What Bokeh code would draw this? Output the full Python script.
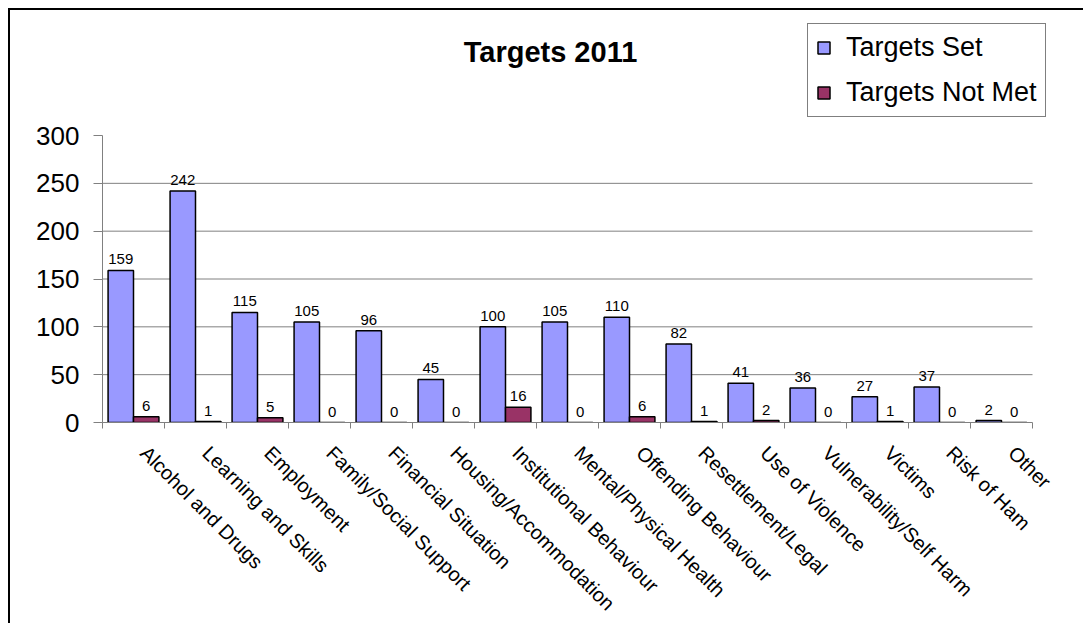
import numpy as np
from math import pi
from bokeh.plotting import figure
from bokeh.models import (ColumnDataSource, Range1d, FixedTicker, LabelSet, Label,
                          Legend, LegendItem)
from bokeh.transform import dodge
from bokeh.core.properties import value
from bokeh.embed import file_html
from bokeh.resources import INLINE

categories = ["Alcohol and Drugs", "Learning and Skills", "Employment",
              "Family/Social Support", "Financial Situation", "Housing/Accommodation",
              "Institutional Behaviour", "Mental/Physical Health", "Offending Behaviour",
              "Resettlement/Legal", "Use of Violence", "Vulnerability/Self Harm",
              "Victims", "Risk of Ham", "Other"]
targets_set = [159, 242, 115, 105, 96, 45, 100, 105, 110, 82, 41, 36, 27, 37, 2]
targets_not_met = [6, 1, 5, 0, 0, 0, 16, 0, 6, 1, 2, 0, 1, 0, 0]
y_ticks = [0, 50, 100, 150, 200, 250, 300]
series_names = ["Targets Set", "Targets Not Met"]
title_text = "Targets 2011"

FONT = "Liberation Sans"
n = len(categories)

# layout (pixels)
W, H = 1075, 615
FL, FB = 92, 412          # frame left / frame bottom position of the category axis
CAT_PX, VAL_PX = 930, 287  # pixel span of the categories and of 0..300
FT, FR = 2, 1062           # frame top / right (frame extended so annotations are not clipped)

x_end = n * (FR - FL) / CAT_PX
y_end = y_ticks[-1] * (FB - FT) / VAL_PX

xi = np.arange(n) + 0.5
source = ColumnDataSource(dict(
    x=xi, cat=categories, set=targets_set, notmet=targets_not_met,
    set_lbl=[str(v) for v in targets_set],
    notmet_lbl=[str(v) for v in targets_not_met],
))

p = figure(width=W, height=H,
           x_range=Range1d(0, x_end), y_range=Range1d(y_ticks[0], y_end),
           output_backend="svg", toolbar_location=None,
           min_border_left=FL, min_border_top=FT, min_border_right=W - FR,
           min_border_bottom=H - FB)
p.styles = {"margin-left": "8px", "margin-top": "8px",
            "border-left": "2px solid #000000", "border-top": "2px solid #000000"}
p.outline_line_color = None
p.background_fill_color = "white"
p.xgrid.visible = False
p.ygrid.visible = False

# horizontal gridlines limited to the category span
gy = y_ticks[1:-1]
p.segment(x0=[0] * len(gy), x1=[n] * len(gy), y0=gy, y1=gy,
          line_color="#808080", line_width=1)

off = 0.205
r1 = p.vbar(x=dodge("x", -off, range=p.x_range), top="set", width=0.41, source=source,
            fill_color="#9999FF", line_color="black", line_width=1.5)
r2 = p.vbar(x=dodge("x", off, range=p.x_range), top="notmet", width=0.41, source=source,
            fill_color="#993366", line_color="black", line_width=1.5)

for col, lbl, dx in (("set", "set_lbl", -off), ("notmet", "notmet_lbl", off)):
    p.add_layout(LabelSet(x=dodge("x", dx, range=p.x_range), y=col, text=lbl, source=source,
                          text_align="center", text_baseline="bottom", y_offset=6,
                          text_font=value(FONT), text_font_size="15px", text_color="black"))

# axes
LBL_SHIFT = 0.17  # slanted labels start a little right of the category centre
lx = xi + LBL_SHIFT
xa = p.xaxis[0]
xa.bounds = (0, n)
xa.ticker = FixedTicker(ticks=list(lx), minor_ticks=list(np.arange(n + 1)))
xa.major_label_overrides = {float(x): c for x, c in zip(lx, categories)}
xa.major_label_orientation = -pi / 4
xa.major_label_text_font = FONT
xa.major_label_text_font_size = "20px"
xa.major_label_text_color = "black"
xa.major_label_standoff = 21
xa.major_tick_line_color = None
xa.major_tick_in = 0
xa.major_tick_out = 0
xa.minor_tick_in = 0
xa.minor_tick_out = 6
xa.minor_tick_line_color = "#808080"
xa.axis_line_color = "#808080"

ya = p.yaxis[0]
ya.bounds = (y_ticks[0], y_ticks[-1])
ya.ticker = FixedTicker(ticks=y_ticks, minor_ticks=[])
ya.major_label_text_font = FONT
ya.major_label_text_font_size = "26px"
ya.major_label_text_color = "black"
ya.major_tick_in = 0
ya.major_tick_out = 9
ya.major_tick_line_color = "#808080"
ya.minor_tick_line_color = None
ya.axis_line_color = "#808080"
ya.major_label_standoff = 14

# title
p.add_layout(Label(x=448, y=371, x_units="screen", y_units="screen", text=title_text,
                   text_align="center", text_baseline="middle", text_font=FONT,
                   text_font_size="29px", text_font_style="bold", text_color="black"))

legend = Legend(items=[LegendItem(label=series_names[0], renderers=[r1]),
                       LegendItem(label=series_names[1], renderers=[r2])],
                location=(705, 305))
legend.label_text_font = FONT
legend.label_text_font_size = "27px"
legend.label_text_color = "black"
legend.glyph_width = 15
legend.glyph_height = 15
legend.label_standoff = 15
legend.label_height = 31
legend.padding = 8
legend.spacing = 14
legend.margin = 0
legend.border_line_color = "black"
legend.border_line_width = 1
legend.background_fill_alpha = 1
p.add_layout(legend)

open("out.html", "w").write(file_html(p, INLINE))
